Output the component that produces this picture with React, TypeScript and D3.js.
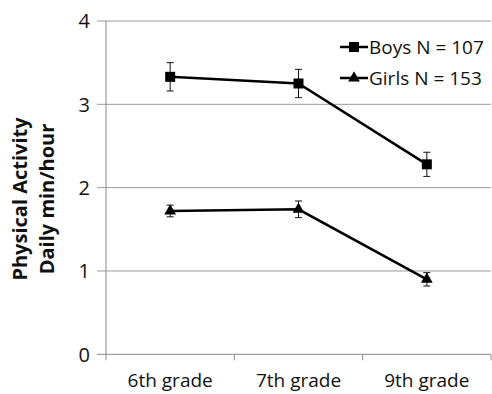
import React from "react";
import * as d3 from "d3";

const grades = ["6th grade", "7th grade", "9th grade"];
const boys = [3.33, 3.25, 2.28];
const boysErr = [0.17, 0.17, 0.145];
const girls = [1.72, 1.74, 0.9];
const girlsErr = [0.07, 0.1, 0.08];
const yTicks = [0, 1, 2, 3, 4];
const seriesNames = ["Boys N = 107", "Girls N = 153"];

const W = 492;
const H = 394;
const left = 106;
const right = 491;
const top = 21;
const bottom = 354.3;
const FONT = "'Open Sans', sans-serif";

export default function App() {
  const x = d3.scaleBand().domain(grades).range([left, right]).padding(0);
  const y = d3.scaleLinear().domain([0, 4]).range([bottom, top]);
  const cx = (g: string) => (x(g) as number) + x.bandwidth() / 2;
  const line = d3
    .line<number>()
    .x((_, i) => cx(grades[i]))
    .y((d) => y(d));
  const tri = d3.symbol().type(d3.symbolTriangle).size(60)() as string;

  const series = [
    { vals: boys, err: boysErr, marker: "square" },
    { vals: girls, err: girlsErr, marker: "triangle" },
  ];

  return (
    <svg width={W} height={H} style={{ position: "absolute", left: 0, top: 0, background: "#fff" }}>
      {yTicks.map((t) => (
        <g key={t}>
          <line x1={97} x2={right} y1={y(t)} y2={y(t)} stroke={t === 0 ? "#8a8a8a" : "#9a9a9a"} strokeWidth={1} />
          <text x={90} y={y(t)} dy="0.36em" textAnchor="end" fontFamily={FONT} fontSize={20} fill="#111">
            {t}
          </text>
        </g>
      ))}
      <line x1={left} x2={left} y1={top} y2={bottom + 6} stroke="#8a8a8a" strokeWidth={1} />
      {grades.map((g) => (
        <line key={g} x1={(x(g) as number) + x.bandwidth()} x2={(x(g) as number) + x.bandwidth()} y1={bottom} y2={bottom + 6} stroke="#8a8a8a" />
      ))}
      {grades.map((g) => (
        <text key={g} x={cx(g)} y={387} textAnchor="middle" fontFamily={FONT} fontSize={19} fill="#111">
          {g}
        </text>
      ))}
      <text transform="translate(27,199) rotate(-90)" textAnchor="middle" fontFamily={FONT} fontSize={20} fontWeight="bold" fill="#111">
        Physical Activity
      </text>
      <text transform="translate(54,199) rotate(-90)" textAnchor="middle" fontFamily={FONT} fontSize={20} fontWeight="bold" fill="#111">
        Daily min/hour
      </text>
      {series.map((s, si) => (
        <g key={si}>
          {s.vals.map((v, i) => {
            const px = cx(grades[i]);
            return (
              <g key={i} stroke="#111" strokeWidth={1}>
                <line x1={px} x2={px} y1={y(v + s.err[i])} y2={y(v - s.err[i])} />
                <line x1={px - 3.5} x2={px + 3.5} y1={y(v + s.err[i])} y2={y(v + s.err[i])} />
                <line x1={px - 3.5} x2={px + 3.5} y1={y(v - s.err[i])} y2={y(v - s.err[i])} />
              </g>
            );
          })}
          <path d={line(s.vals) as string} fill="none" stroke="#000" strokeWidth={2.5} />
          {s.vals.map((v, i) => {
            const px = cx(grades[i]);
            return s.marker === "square" ? (
              <rect key={i} x={px - 5} y={y(v) - 5} width={10} height={10} fill="#000" />
            ) : (
              <path key={i} d={tri} transform={`translate(${px},${y(v)})`} fill="#000" />
            );
          })}
        </g>
      ))}
      {seriesNames.map((n, i) => {
        const ly = 47 + i * 31;
        return (
          <g key={n}>
            <line x1={340} x2={368} y1={ly} y2={ly} stroke="#000" strokeWidth={2.5} />
            {i === 0 ? (
              <rect x={349} y={ly - 5} width={10} height={10} fill="#000" />
            ) : (
              <path d={tri} transform={`translate(354,${ly})`} fill="#000" />
            )}
            <text x={369} y={ly} dy="0.36em" fontFamily={FONT} fontSize={19} fill="#111">
              {n}
            </text>
          </g>
        );
      })}
    </svg>
  );
}
